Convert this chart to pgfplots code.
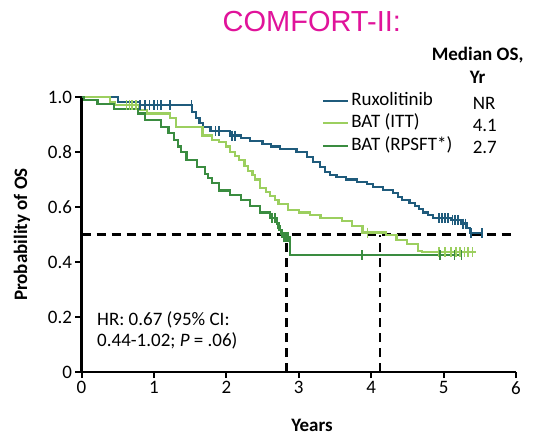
\documentclass[border=0pt]{standalone}
\usepackage{pgfplots}
\pgfplotsset{compat=1.18}
\usepackage{fontspec}
\setmainfont{Carlito}
\newfontfamily\arialfont{Liberation Sans}
\definecolor{rux}{HTML}{1F5B7C}
\definecolor{itt}{HTML}{9CCF5F}
\definecolor{rps}{HTML}{3A8C40}
\definecolor{mag}{HTML}{E0139A}
\begin{document}
\begin{tikzpicture}
\useasboundingbox (-81.5pt,-68pt) rectangle (452.5pt,372pt);
\begin{axis}[
  at={(0pt,0pt)}, anchor=south west,
  scale only axis, width=434.5pt, height=275pt,
  xmin=0, xmax=6, ymin=0, ymax=1,
  axis lines=left,
  axis line style={line width=2.2pt, -},
  xtick={0,1,2,3,4,5,6}, xticklabels={0,1,2,3,4,5,6},
  ytick={0,0.2,0.4,0.6,0.8,1.0}, yticklabels={0,0.2,0.4,0.6,0.8,1.0},
  tick align=outside, major tick length=6pt,
  tick style={line width=2pt, black},
  /pgf/number format/assume math mode=true,
  font=\fontsize{19}{23}\selectfont,
  clip=false,
  xlabel={\bfseries Years},
  ylabel={\bfseries Probability of OS},
  xlabel style={at={(rel axis cs:0.5305,-0.193)}, anchor=center},
  ylabel style={at={(rel axis cs:-0.137,0.5)}, anchor=center, rotate=0},
  legend cell align=left,
  legend image code/.code={\draw[#1, line width=2.2pt] (0pt,0pt) -- (25pt,0pt);},
  legend style={at={(axis cs:3.32,1.025)}, anchor=north west, draw=none, fill=none,
    inner sep=0pt, row sep=1.5pt, font=\fontsize{19}{23}\selectfont,
    nodes={text height=13pt, text depth=4pt, inner sep=2pt}},
]
% Dashed median lines
\addplot[black, line width=2.4pt, dash pattern=on 9pt off 6pt, forget plot] coordinates {(0,0.5) (6,0.5)};
\addplot[black, line width=2.4pt, dash pattern=on 9pt off 6pt, forget plot] coordinates {(2.83,0) (2.83,0.5)};
\addplot[black, line width=2.4pt, dash pattern=on 9pt off 6pt, forget plot] coordinates {(4.12,0) (4.12,0.5)};

% Ruxolitinib
\addplot[rux, line width=2.2pt, const plot] coordinates {
(0,1.0) (0.50,0.982) (0.81,0.97) (1.53,0.945) (1.58,0.925) (1.63,0.905) (1.68,0.89)
(1.78,0.875) (2.05,0.86) (2.20,0.85) (2.33,0.84) (2.50,0.83) (2.62,0.82) (2.74,0.81)
(2.97,0.80) (3.11,0.782) (3.20,0.764) (3.29,0.745) (3.36,0.727) (3.43,0.716) (3.52,0.71)
(3.65,0.70) (3.80,0.69) (3.94,0.683) (4.02,0.673) (4.16,0.662) (4.30,0.651) (4.37,0.636)
(4.43,0.625) (4.53,0.614) (4.60,0.603) (4.66,0.592) (4.72,0.58) (4.78,0.571) (4.85,0.56)
(5.10,0.553) (5.24,0.54) (5.32,0.525) (5.36,0.505) (5.54,0.505)};
\addlegendentry{Ruxolitinib}
% BAT (ITT)
\addplot[itt, line width=2.2pt, const plot] coordinates {
(0,1.0) (0.39,0.982) (0.46,0.97) (0.80,0.953) (0.90,0.94) (1.22,0.924) (1.30,0.89)
(1.67,0.86) (1.80,0.845) (1.90,0.835) (2.00,0.82) (2.05,0.80) (2.12,0.785) (2.17,0.77)
(2.25,0.75) (2.30,0.73) (2.36,0.715) (2.40,0.70) (2.47,0.67) (2.55,0.655) (2.60,0.64)
(2.67,0.625) (2.72,0.61) (2.85,0.59) (3.00,0.58) (3.15,0.57) (3.30,0.56) (3.60,0.55)
(3.74,0.53) (3.88,0.507) (4.20,0.498) (4.35,0.48) (4.50,0.465) (4.65,0.44) (4.70,0.435)
(5.45,0.435)};
\addlegendentry{BAT (ITT)}
% BAT (RPSFT)
\addplot[rps, line width=2.2pt, const plot] coordinates {
(0,1.0) (0.03,0.99) (0.22,0.975) (0.45,0.955) (0.78,0.94) (0.88,0.915) (1.10,0.89)
(1.20,0.87) (1.28,0.845) (1.33,0.82) (1.37,0.80) (1.45,0.77) (1.60,0.745) (1.70,0.72)
(1.75,0.705) (1.80,0.687) (1.90,0.66) (2.05,0.644) (2.20,0.625) (2.33,0.605) (2.47,0.58)
(2.60,0.56) (2.70,0.54) (2.73,0.515) (2.77,0.49) (2.88,0.425) (5.25,0.425)};
\addlegendentry{BAT (RPSFT*)}

% censor ticks
\addplot[rux, only marks, mark=|, mark size=5pt, mark options={line width=1.5pt}, forget plot] coordinates {
(0.81,0.97) (0.88,0.97) (0.94,0.97) (1.0,0.97) (1.05,0.97) (1.10,0.97) (1.22,0.97) (1.52,0.97)
(1.85,0.875) (1.90,0.875) (2.08,0.86) (2.12,0.86)
(4.94,0.56) (4.98,0.56) (5.02,0.56) (5.06,0.56) (5.12,0.553) (5.16,0.553) (5.20,0.553)
(5.27,0.54) (5.30,0.54) (5.38,0.505) (5.53,0.505)};
\addplot[itt, only marks, mark=|, mark size=5pt, mark options={line width=1.5pt}, forget plot] coordinates {
(0.62,0.97) (0.66,0.97) (0.70,0.97) (0.75,0.97)
(3.95,0.507)
(4.94,0.435) (5.02,0.435) (5.10,0.435) (5.17,0.435) (5.23,0.435) (5.29,0.435) (5.34,0.435) (5.40,0.435)};
\addplot[rps, only marks, mark=|, mark size=5pt, mark options={line width=1.5pt}, forget plot] coordinates {
(2.63,0.56) (2.67,0.56) (2.71,0.54) (2.75,0.515) (2.79,0.49) (2.81,0.49) (2.84,0.49) (2.86,0.49)
(3.87,0.425) (4.95,0.425) (5.15,0.425) (5.25,0.425)};

% Titles and annotations
\node[mag, font=\arialfont\fontsize{29}{33}\selectfont] at (axis cs:3.18,1.273) {COMFORT-II:};
\node[font=\bfseries\fontsize{19}{23}\selectfont] at (axis cs:5.47,1.153) {Median OS,};
\node[font=\bfseries\fontsize{19}{23}\selectfont] at (axis cs:5.47,1.073) {Yr};
\node[anchor=west, inner sep=0pt] at (axis cs:5.40,0.978) {NR};
\node[anchor=west, inner sep=0pt] at (axis cs:5.40,0.895) {4.1};
\node[anchor=west, inner sep=0pt] at (axis cs:5.40,0.815) {2.7};
\node[anchor=west, inner sep=0pt] at (axis cs:0.214,0.189) {HR: 0.67 (95\% CI:};
\node[anchor=west, inner sep=0pt] at (axis cs:0.214,0.113) {0.44-1.02; \textit{P} = .06)};
\end{axis}
\end{tikzpicture}
\end{document}
